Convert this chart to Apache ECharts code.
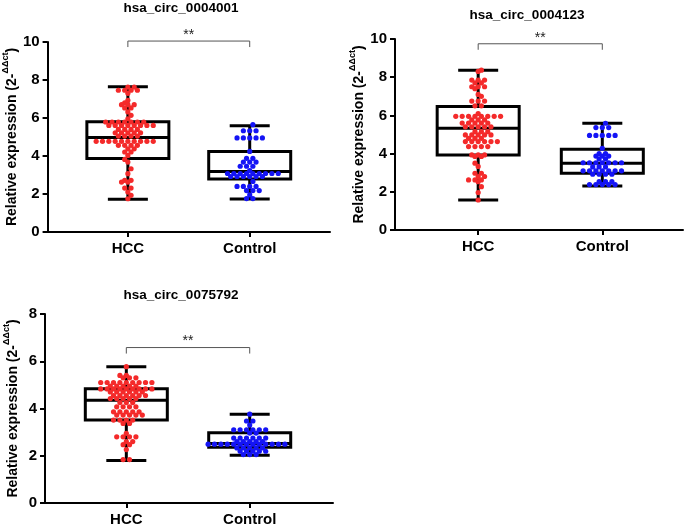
<!DOCTYPE html>
<html><head><meta charset="utf-8">
<script src="https://cdn.jsdelivr.net/npm/echarts@6/dist/echarts.min.js"></script>
<style>html,body{margin:0;padding:0;background:#fff}#c{width:685px;height:527px}</style>
</head><body><div id="c"></div>
<script>
// ---------------- data ----------------
const categories = ['HCC', 'Control'];
const titles = ['hsa_circ_0004001', 'hsa_circ_0004123', 'hsa_circ_0075792'];
const yMaxes = [10, 10, 8];
const yInterval = 2;
// box stats: [min, Q1, median, Q3, max]
const box1HCC = [1.73, 3.87, 4.98, 5.80, 7.64];
const box1Control = [1.74, 2.79, 3.19, 4.24, 5.59];
const box2HCC = [1.57, 3.93, 5.33, 6.47, 8.37];
const box2Control = [2.31, 2.97, 3.50, 4.23, 5.59];
const box3HCC = [1.80, 3.51, 4.35, 4.84, 5.77];
const box3Control = [2.02, 2.36, 2.52, 2.97, 3.76];
// individual points
const pts1HCC = [7.63,7.63,7.46,7.46,7.46,7.46,7.3,6.93,6.8,6.7,6.7,6.7,6.53,6.53,6.32,6.14,5.96,
  5.79,5.79,5.79,5.79,5.79,5.79,5.79,5.61,5.61,5.61,5.61,5.61,5.61,5.61,5.61,5.4,5.4,5.4,5.4,
  5.22,5.22,5.22,5.22,5.22,5.05,5.05,5.05,5.05,4.77,4.77,4.77,4.77,4.77,4.77,4.77,4.77,4.77,4.77,
  4.56,4.56,4.56,4.56,4.38,4.38,4.21,4.21,4.03,3.82,3.68,3.33,3.07,2.72,2.72,2.63,2.63,2.31,2.31,2.1,1.93,1.75];
const pts1Control = [5.65,5.33,5.33,5.33,4.95,4.95,4.95,4.95,4.95,4.24,3.88,3.88,3.68,3.68,3.68,3.46,3.46,3.46,3.23,
  3.08,3.08,3.08,3.08,3.08,3.08,3.08,3.08,3.08,2.92,2.92,2.92,2.92,2.92,2.92,2.66,2.4,2.4,2.4,2.4,2.18,2.18,2.18,1.95,1.76,1.76];
const pts2HCC = [8.37,8.3,7.85,7.85,7.85,7.7,7.7,7.5,7.5,7.5,7.4,7.1,7.0,6.75,6.75,6.75,6.5,6.5,6.1,
  5.95,5.95,5.95,5.95,5.95,5.95,5.95,5.95,5.77,5.77,5.77,5.6,5.6,5.6,5.6,5.6,5.4,5.4,5.4,5.4,5.4,
  5.15,5.15,5.15,4.98,4.98,4.98,4.98,4.98,4.8,4.8,4.8,4.63,4.63,4.63,4.63,4.63,4.63,4.37,4.37,4.37,4.37,
  3.93,3.93,3.93,3.85,3.85,3.5,3.33,2.97,2.97,2.8,2.8,2.62,2.62,2.62,2.53,2.27,1.96,1.57];
const pts2Control = [5.59,5.36,5.36,5.36,4.95,4.95,4.95,4.95,4.95,4.28,4.0,4.0,3.87,3.87,3.87,3.72,3.72,
  3.52,3.52,3.52,3.52,3.52,3.52,3.52,3.3,3.3,3.3,3.1,3.1,3.1,3.1,3.1,3.1,3.1,2.92,2.92,2.92,2.92,
  2.53,2.53,2.53,2.38,2.38,2.38,2.38,2.38];
const pts3HCC = [5.77,5.4,5.4,5.3,5.3,5.3,5.1,5.1,5.1,5.1,5.1,5.1,5.1,5.1,5.1,4.95,4.95,4.95,4.95,4.95,
  4.83,4.83,4.83,4.83,4.83,4.83,4.83,4.83,4.83,4.7,4.7,4.7,4.7,4.7,4.7,4.55,4.55,4.55,4.55,4.55,4.55,
  4.42,4.42,4.42,4.42,4.42,4.25,4.25,4.25,4.07,4.07,4.07,4.07,3.86,3.86,3.86,3.86,3.86,3.72,3.72,3.72,3.72,3.72,
  3.51,3.51,3.51,3.51,3.37,3.37,2.95,2.8,2.8,2.8,2.8,2.6,2.6,2.47,2.47,2.26,1.84,1.84];
const pts3Control = [3.76,3.47,3.47,3.3,3.1,3.1,3.1,3.1,3.1,3.1,2.96,2.96,2.75,2.75,2.75,2.75,2.75,2.75,
  2.6,2.6,2.6,2.6,2.6,2.49,2.49,2.49,2.49,2.49,2.49,2.49,2.49,2.49,2.49,2.49,2.49,2.49,
  2.33,2.33,2.33,2.33,2.33,2.19,2.19,2.19,2.19,2.19,2.05,2.05,2.05];
const sigLabels = ['**', '**', '**'];
const sigLevels = [10.05, 9.75, 6.58];

// ---------------- layout ----------------
const FONT = '"Liberation Sans", Arial, sans-serif';
const panels = [
  {left:45, top:42, width:285, height:190, xmin:0.341, xmax:2.659, nameGap:25, tx:181, ty:8,
   box:[box1HCC, box1Control], pts:[pts1HCC, pts1Control]},
  {left:395, top:39, width:288, height:191, xmin:0.33, xmax:2.65, nameGap:28, tx:527, ty:15,
   box:[box2HCC, box2Control], pts:[pts2HCC, pts2Control]},
  {left:45, top:314, width:288, height:192, xmin:0.341, xmax:2.675, nameGap:25, tx:181, ty:295,
   box:[box3HCC, box3Control], pts:[pts3HCC, pts3Control]}
];
const colors = ['#f42a2a', '#1414f5'];
const DOT = 5.2, ROW_SP = 6.4;

// scatter-dot layout: equal values form a horizontal row; neighbouring rows interleave
function rowOffsets(values, pxY) {
  const rows = {};
  values.forEach((v, i) => { (rows[v] = rows[v] || []).push(i); });
  const keys = Object.keys(rows).map(Number).sort((a, b) => a - b);
  const out = new Array(values.length);
  let prev = null, sign = 1;
  keys.forEach(v => {
    const idx = rows[v], n = idx.length;
    let pos = idx.map((_, j) => (j - (n - 1) / 2) * ROW_SP);
    if (prev && Math.abs(v - prev.v) * pxY < ROW_SP) {
      const clash = pos.some(p => prev.pos.some(q => Math.abs(p - q) < ROW_SP / 4));
      if (clash) { pos = pos.map(p => p + sign * ROW_SP / 2); sign = -sign; }
    }
    idx.forEach((i, j) => { out[i] = pos[j]; });
    prev = {v, pos};
  });
  return out;
}

const grid = [], xAxis = [], yAxis = [], series = [], graphic = [];
panels.forEach((P, k) => {
  grid.push({left: P.left, top: P.top, width: P.width, height: P.height});
  xAxis.push({
    type: 'value', gridIndex: k, min: P.xmin, max: P.xmax,
    axisLine: {show: true, lineStyle: {color: '#000', width: 2}},
    axisTick: {show: true, customValues: [1, 2], length: 5, lineStyle: {color: '#000', width: 2}},
    axisLabel: {customValues: [1, 2], formatter: v => categories[Math.round(v) - 1],
      color: '#000', fontSize: 15, fontWeight: 'bold', fontFamily: FONT, margin: 9},
    splitLine: {show: false}
  });
  yAxis.push({
    type: 'value', gridIndex: k, min: 0, max: yMaxes[k], interval: yInterval,
    name: '{m|Relative expression (2-}{s|ΔΔct}{m|)}',
    nameLocation: 'middle', nameGap: P.nameGap, nameRotate: 90,
    nameTextStyle: {rich: {
      m: {fontSize: 14, fontWeight: 'bold', fontFamily: FONT, color: '#000', lineHeight: 18, verticalAlign: 'bottom'},
      s: {fontSize: 9, fontWeight: 'bold', fontFamily: FONT, color: '#000', lineHeight: 18, verticalAlign: 'top'}
    }},
    axisLine: {show: true, lineStyle: {color: '#000', width: 2}},
    axisTick: {show: true, length: 5, lineStyle: {color: '#000', width: 2}},
    axisLabel: {color: '#000', fontSize: 15, fontWeight: 'bold', fontFamily: FONT, margin: 8},
    splitLine: {show: false}
  });
  graphic.push({type: 'text', x: P.tx, y: P.ty,
    style: {text: titles[k], font: 'bold 13.5px ' + FONT, fill: '#000', align: 'center', verticalAlign: 'middle'}});

  // box plots
  series.push({
    type: 'custom', xAxisIndex: k, yAxisIndex: k, clip: false, z: 2,
    data: P.box.map((b, i) => [i + 1].concat(b)),
    renderItem: (params, api) => {
      const x = api.value(0);
      const c = v => api.coord([x, v]);
      const pMin = c(api.value(1)), pQ1 = c(api.value(2)), pMd = c(api.value(3)), pQ3 = c(api.value(4)), pMax = c(api.value(5));
      const cx = pMin[0], hb = 41, hc = 20;
      const st = {stroke: '#000', lineWidth: 3, fill: null};
      return {type: 'group', children: [
        {type: 'rect', shape: {x: cx - hb, y: pQ3[1], width: 2 * hb, height: pQ1[1] - pQ3[1]}, style: st},
        {type: 'line', shape: {x1: cx - hb, y1: pMd[1], x2: cx + hb, y2: pMd[1]}, style: st},
        {type: 'line', shape: {x1: cx, y1: pQ3[1], x2: cx, y2: pMax[1]}, style: st},
        {type: 'line', shape: {x1: cx, y1: pQ1[1], x2: cx, y2: pMin[1]}, style: st},
        {type: 'line', shape: {x1: cx - hc, y1: pMax[1], x2: cx + hc, y2: pMax[1]}, style: st},
        {type: 'line', shape: {x1: cx - hc, y1: pMin[1], x2: cx + hc, y2: pMin[1]}, style: st}
      ]};
    }
  });
  // points
  const pxX = P.width / (P.xmax - P.xmin);
  const pxY = P.height / yMaxes[k];
  P.pts.forEach((vals, i) => {
    const off = rowOffsets(vals, pxY);
    series.push({
      type: 'scatter', xAxisIndex: k, yAxisIndex: k, z: 3, symbolSize: DOT,
      itemStyle: {color: colors[i], opacity: 1},
      data: vals.map((v, j) => [i + 1 + off[j] / pxX, v])
    });
  });
  // significance bracket
  series.push({
    type: 'custom', xAxisIndex: k, yAxisIndex: k, clip: false, z: 4,
    data: [[1, 2, sigLevels[k]]],
    renderItem: (params, api) => {
      const a = api.coord([api.value(0), api.value(2)]);
      const b = api.coord([api.value(1), api.value(2)]);
      return {type: 'group', children: [
        {type: 'polyline', shape: {points: [[a[0], a[1] + 6], [a[0], a[1]], [b[0], b[1]], [b[0], b[1] + 6]]},
          style: {stroke: '#555', lineWidth: 1, fill: null}},
        {type: 'text', style: {text: sigLabels[k], x: (a[0] + b[0]) / 2, y: a[1] - 6,
          font: '14px ' + FONT, fill: '#222', align: 'center', verticalAlign: 'middle'}}
      ]};
    }
  });
});

const chart = echarts.init(document.getElementById('c'), null, {renderer: 'canvas'});
chart.setOption({animation: false, backgroundColor: '#fff', grid, xAxis, yAxis, series, graphic});
</script></body></html>
